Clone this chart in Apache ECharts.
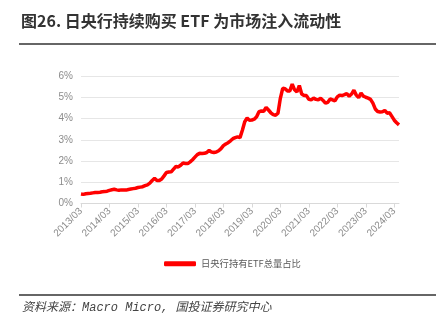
<!DOCTYPE html>
<html><head><meta charset="utf-8">
<script src="https://cdn.jsdelivr.net/npm/echarts@6/dist/echarts.min.js"></script>
<style>html,body{margin:0;padding:0;background:#fff}#c{width:436px;height:330px}</style>
</head><body><div id="c"></div>
<script>
const titleText = '图26. 日央行持续购买 ETF 为市场注入流动性';
const sourceText = '资料来源：Macro Micro, 国投证券研究中心';
const seriesName = '日央行持有ETF总量占比';
const startYear = 2013, startMonth = 3, monthCount = 135;
const yTicks = [0, 1, 2, 3, 4, 5, 6];
const etfShare = [
  0.45,0.43,0.46,0.47,0.48,0.50,0.52,0.52,0.53,0.55,0.56,0.58,
  0.62,0.65,0.67,0.64,0.62,0.64,0.63,0.63,0.66,0.68,0.70,0.72,
  0.75,0.77,0.79,0.84,0.88,0.96,1.08,1.18,1.08,1.08,1.15,1.30,
  1.46,1.48,1.49,1.62,1.74,1.72,1.80,1.91,1.88,1.88,1.96,2.06,
  2.18,2.30,2.36,2.35,2.36,2.40,2.50,2.42,2.40,2.42,2.48,2.58,
  2.72,2.80,2.86,2.95,3.05,3.10,3.14,3.10,3.45,3.85,4.02,3.92,
  3.93,3.97,4.08,4.32,4.35,4.34,4.52,4.40,4.27,4.18,4.15,4.25,
  4.95,5.42,5.40,5.30,5.30,5.62,5.35,5.25,5.55,5.15,5.08,5.08,
  4.90,4.88,4.96,4.90,4.88,4.95,4.85,4.72,4.76,4.92,4.88,4.83,
  5.02,5.10,5.08,5.12,5.17,5.05,5.15,5.33,5.10,4.98,5.20,5.05,
  5.00,4.96,4.90,4.72,4.45,4.33,4.31,4.32,4.38,4.25,4.27,4.10,
  3.92,3.80,3.70
];
const months = [];
for (let i = 0; i < monthCount; i++) {
  const t = startMonth - 1 + i;
  const y = startYear + Math.floor(t / 12), m = t % 12 + 1;
  months.push(y + '/' + String(m).padStart(2, '0'));
}
const chart = echarts.init(document.getElementById('c'), null, {renderer: 'canvas'});
chart.setOption({
  animation: false,
  backgroundColor: '#fff',
  grid: {left: 81, right: 37, top: 76, bottom: 126.5, containLabel: false},
  xAxis: {
    type: 'category', data: months, boundaryGap: false,
    axisLine: {lineStyle: {color: '#d9d9d9', width: 1}},
    axisTick: {interval: 11, length: 4, lineStyle: {color: '#d9d9d9'}},
    axisLabel: {interval: 11, rotate: 45, color: '#8c8c8c', fontSize: 10, margin: 6,
      fontFamily: 'Liberation Sans, Arial, sans-serif'},
    splitLine: {show: false}
  },
  yAxis: {
    type: 'value', min: yTicks[0], max: yTicks[yTicks.length - 1], interval: 1,
    axisLine: {show: false}, axisTick: {show: false},
    axisLabel: {formatter: '{value}%', color: '#8c8c8c', fontSize: 10, margin: 8,
      fontFamily: 'Liberation Sans, Arial, sans-serif'},
    splitLine: {lineStyle: {color: '#e6e6e6', width: 1}}
  },
  legend: {
    data: [seriesName], top: 254, left: 159,
    itemWidth: 32, itemHeight: 5, itemGap: 4,
    icon: 'roundRect',
    textStyle: {color: '#595959', fontSize: 9.3, fontFamily: 'Noto Sans CJK SC'}
  },
  series: [{
    name: seriesName, type: 'line', data: etfShare, showSymbol: false, symbol: 'none',
    lineStyle: {color: '#ff0000', width: 3.5}, itemStyle: {color: '#ff0000'}
  }],
  graphic: [
    {type: 'text', left: 21, top: 13, style: {text: titleText, fill: '#333', fontSize: 16,
      fontWeight: 'bold', fontFamily: 'Noto Sans CJK SC'}},
    {type: 'line', shape: {x1: 19, y1: 44, x2: 436, y2: 44}, style: {stroke: '#333', lineWidth: 1.5}},
    {type: 'line', shape: {x1: 19, y1: 295, x2: 436, y2: 295}, style: {stroke: '#333', lineWidth: 1.5}},
    {type: 'text', left: 22, top: 302, style: {text: sourceText, fill: '#444', fontSize: 12,
      fontStyle: 'italic', fontFamily: 'Liberation Mono, Noto Sans CJK SC'}}
  ]
});
</script></body></html>
